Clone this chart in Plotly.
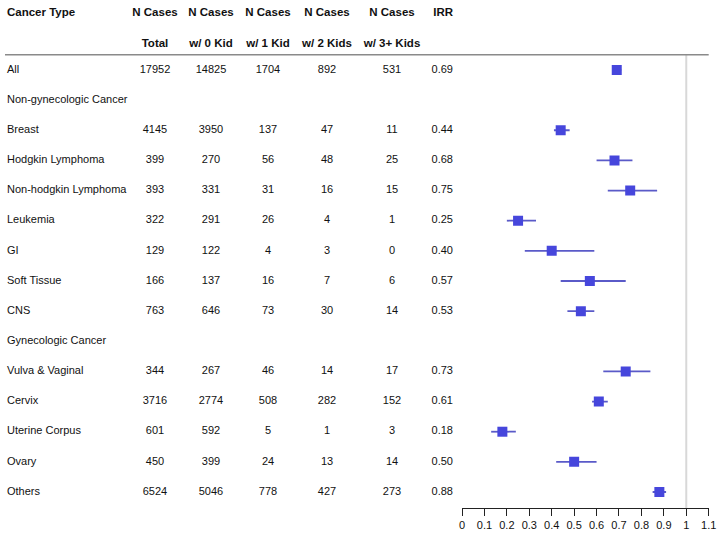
import plotly.graph_objects as go

# ---------------- data ----------------
cancer_types = ["All", "Non-gynecologic Cancer", "Breast", "Hodgkin Lymphoma",
                "Non-hodgkin Lymphoma", "Leukemia", "GI", "Soft Tissue", "CNS",
                "Gynecologic Cancer", "Vulva & Vaginal", "Cervix", "Uterine Corpus",
                "Ovary", "Others"]
n_total = [17952, None, 4145, 399, 393, 322, 129, 166, 763, None, 344, 3716, 601, 450, 6524]
n_0kid = [14825, None, 3950, 270, 331, 291, 122, 137, 646, None, 267, 2774, 592, 399, 5046]
n_1kid = [1704, None, 137, 56, 31, 26, 4, 16, 73, None, 46, 508, 5, 24, 778]
n_2kids = [892, None, 47, 48, 16, 4, 3, 7, 30, None, 14, 282, 1, 13, 427]
n_3kids = [531, None, 11, 25, 15, 1, 0, 6, 14, None, 17, 152, 3, 14, 273]
irr = [0.69, None, 0.44, 0.68, 0.75, 0.25, 0.40, 0.57, 0.53, None, 0.73, 0.61, 0.18, 0.50, 0.88]
ci_low = [0.67, None, 0.41, 0.60, 0.65, 0.20, 0.28, 0.44, 0.47, None, 0.63, 0.58, 0.13, 0.42, 0.85]
ci_high = [0.71, None, 0.48, 0.76, 0.87, 0.33, 0.59, 0.73, 0.59, None, 0.84, 0.65, 0.24, 0.60, 0.91]

header1 = ["Cancer Type", "N Cases", "N Cases", "N Cases", "N Cases", "N Cases", "IRR"]
header2 = ["", "Total", "w/ 0 Kid", "w/ 1 Kid", "w/ 2 Kids", "w/ 3+ Kids", ""]
x_ticks = [0, 0.1, 0.2, 0.3, 0.4, 0.5, 0.6, 0.7, 0.8, 0.9, 1, 1.1]
x_ticktext = ["0", "0.1", "0.2", "0.3", "0.4", "0.5", "0.6", "0.7", "0.8", "0.9", "1", "1.1"]

# ---------------- layout constants ----------------
W, H = 719, 537
FONT = "Liberation Sans, Arial, sans-serif"
rows = list(range(len(cancer_types)))
HEAD1_Y, HEAD2_Y, SEP_Y = -1.87, -0.87, -0.5
Y_RANGE = [14.53, -2.32]
# table column anchors (in table-axis units = px)
COL_NAME = 7
COL_CENTERS = [155, 211, 268, 327, 392]
COL_IRR = 453
FOREST_L, FOREST_R = 462, 708.7


def fmt(v):
    return "" if v is None else str(v)


fig = go.Figure()

# table body
fig.add_trace(go.Scatter(
    x=[COL_NAME] * len(rows), y=rows, text=cancer_types, mode="text",
    textposition="middle right", textfont=dict(size=11, color="#111", family=FONT),
    xaxis="x2", yaxis="y", hoverinfo="skip"))
for cx, col in zip(COL_CENTERS, [n_total, n_0kid, n_1kid, n_2kids, n_3kids]):
    fig.add_trace(go.Scatter(
        x=[cx] * len(rows), y=rows, text=[fmt(v) for v in col], mode="text",
        textposition="middle center", textfont=dict(size=11, color="#111", family=FONT),
        xaxis="x2", yaxis="y", hoverinfo="skip"))
fig.add_trace(go.Scatter(
    x=[COL_IRR] * len(rows), y=rows,
    text=["" if v is None else f"{v:.2f}" for v in irr], mode="text",
    textposition="middle left", textfont=dict(size=11, color="#111", family=FONT),
    xaxis="x2", yaxis="y", hoverinfo="skip"))

# headers
hx = [COL_NAME] + COL_CENTERS + [COL_IRR]
hpos = ["middle right"] + ["middle center"] * 5 + ["middle left"]
for hy, htxt in [(HEAD1_Y, header1), (HEAD2_Y, header2)]:
    fig.add_trace(go.Scatter(
        x=hx, y=[hy] * len(hx), text=[f"<b>{t}</b>" if t else "" for t in htxt],
        mode="text", textposition=hpos,
        textfont=dict(size=11.5, color="#111", family=FONT),
        xaxis="x2", yaxis="y", hoverinfo="skip"))

# forest points
fig.add_trace(go.Scatter(
    x=irr, y=rows, mode="markers",
    marker=dict(symbol="square", size=10, color="#4646DC", line=dict(width=0)),
    error_x=dict(type="data", symmetric=False,
                 array=[None if h is None else h - m for h, m in zip(ci_high, irr)],
                 arrayminus=[None if l is None else m - l for l, m in zip(ci_low, irr)],
                 width=0, thickness=1.8, color="#5A5AC8"),
    xaxis="x", yaxis="y", hoverinfo="skip"))

fig.update_layout(
    width=W, height=H, autosize=False,
    margin=dict(l=0, r=0, t=0, b=29, autoexpand=False),
    paper_bgcolor="white", plot_bgcolor="white",
    showlegend=False,
    font=dict(family=FONT, size=11, color="#111"),
    xaxis=dict(domain=[FOREST_L / W, FOREST_R / W], range=[0, 1.1],
               tickvals=x_ticks, ticktext=x_ticktext, automargin=False,
               showline=True, linecolor="#222", linewidth=1,
               ticks="outside", ticklen=7, tickcolor="#222", tickwidth=1,
               showgrid=False, zeroline=False, fixedrange=True,
               tickfont=dict(size=11, color="#111", family=FONT)),
    xaxis2=dict(domain=[0, FOREST_L / W], range=[0, FOREST_L], anchor="y",
                visible=False, fixedrange=True, automargin=False),
    yaxis=dict(range=Y_RANGE, visible=False, fixedrange=True, automargin=False),
    shapes=[
        dict(type="line", xref="x", yref="y", x0=1, x1=1, y0=SEP_Y, y1=Y_RANGE[0],
             line=dict(color="#D8D8D8", width=2), layer="below"),
        dict(type="line", xref="paper", yref="y", x0=5 / W, x1=FOREST_R / W,
             y0=SEP_Y, y1=SEP_Y, line=dict(color="#8A8A8A", width=1.5)),
    ],
)

fig.write_html("out.html", config={"displayModeBar": False, "responsive": False},
               post_script="document.body.style.margin='0';document.body.style.overflow='hidden';")
